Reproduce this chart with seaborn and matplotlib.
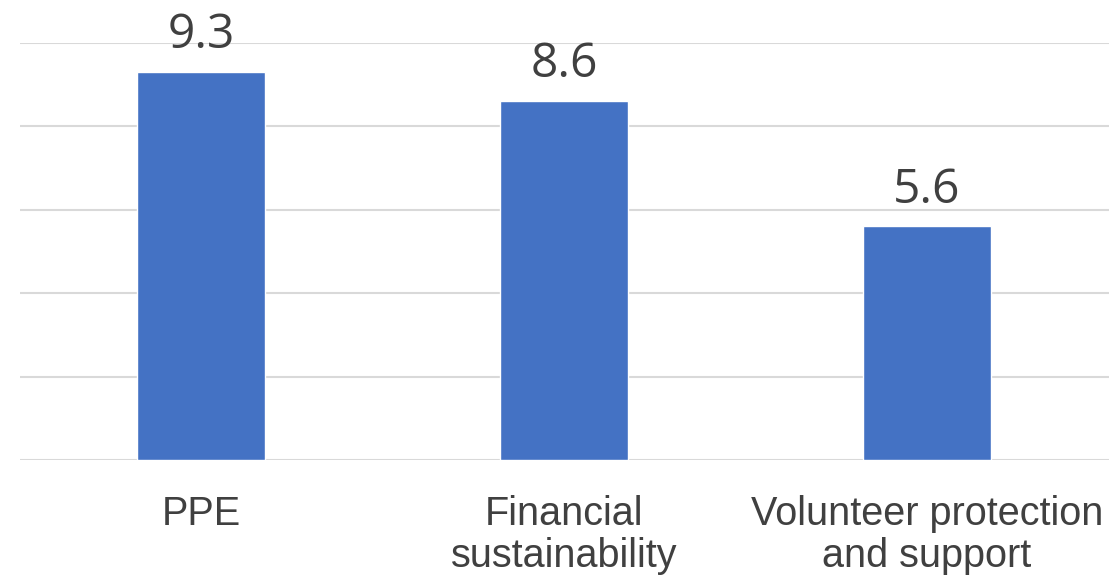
import matplotlib
matplotlib.use("Agg")
import matplotlib.pyplot as plt
import seaborn as sns
import pandas as pd

# values
categories = ["PPE", "Financial\nsustainability", "Volunteer protection\nand support"]
scores = [9.3, 8.6, 5.6]
yticks = [0, 2, 4, 6, 8, 10]

df = pd.DataFrame({"category": categories, "score": scores})

sns.set_style("white")
plt.rcParams["font.family"] = ["Liberation Sans", "DejaVu Sans"]

fig = plt.figure(figsize=(11.14, 5.75), dpi=100)
ax = fig.add_axes([19.5 / 1114, 0.2, 1089 / 1114, 0.726])

sns.barplot(data=df, x="category", y="score", color="#4472C4",
            width=0.353, saturation=1, ax=ax, zorder=3)

ax.set_xlim(-0.5, 2.5)
ax.set_ylim(0, 10)
ax.set_yticks(yticks)
ax.yaxis.grid(True, color="#D9D9D9", linewidth=1.5, zorder=0)
ax.set_axisbelow(True)
ax.tick_params(axis="y", left=False, labelleft=False)
ax.tick_params(axis="x", length=0, pad=25, labelsize=28.5, labelcolor="#404040")
for lbl in ax.get_xticklabels():
    lbl.set_linespacing(1.15)
ax.set_xlabel("")
ax.set_ylabel("")
sns.despine(ax=ax, left=True, bottom=True, top=True, right=True)

for c in ax.containers:
    ax.bar_label(c, fmt="%.1f", padding=9, fontsize=34.5, color="#404040",
                 fontfamily="Open Sans")

fig.savefig("out.png", dpi=100)
